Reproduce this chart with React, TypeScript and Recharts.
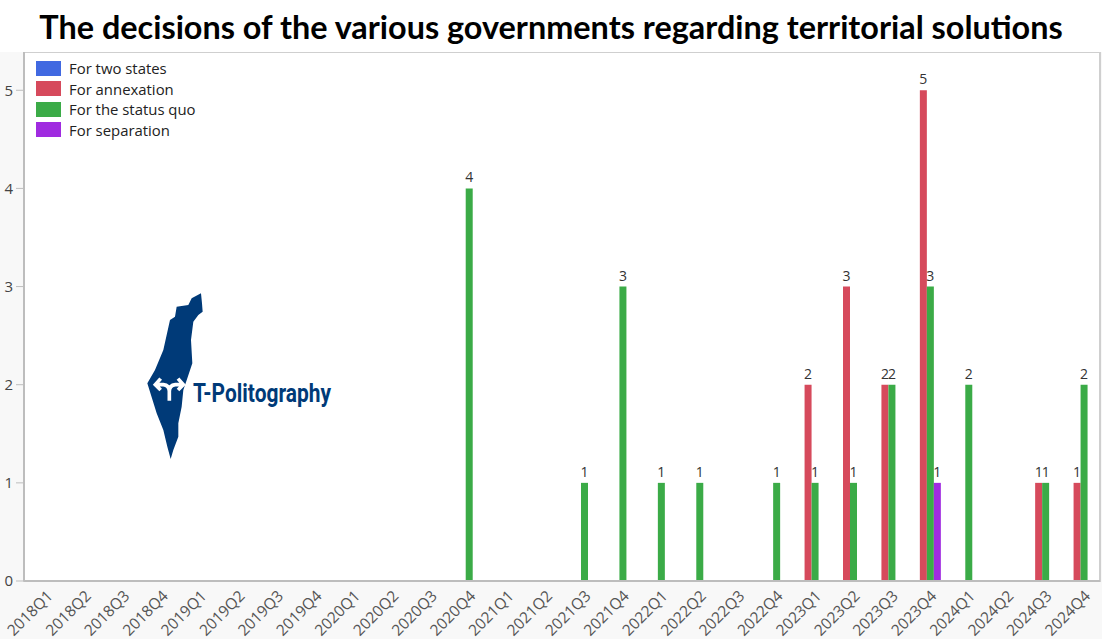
import React from 'react';
import {
  Bar,
  BarChart,
  CartesianGrid,
  LabelList,
  Legend,
  ReferenceArea,
  XAxis,
  YAxis,
} from 'recharts';

const quarters = [
  '2018Q1', '2018Q2', '2018Q3', '2018Q4',
  '2019Q1', '2019Q2', '2019Q3', '2019Q4',
  '2020Q1', '2020Q2', '2020Q3', '2020Q4',
  '2021Q1', '2021Q2', '2021Q3', '2021Q4',
  '2022Q1', '2022Q2', '2022Q3', '2022Q4',
  '2023Q1', '2023Q2', '2023Q3', '2023Q4',
  '2024Q1', '2024Q2', '2024Q3', '2024Q4',
];

const n = null;
const twoStates = [n, n, n, n, n, n, n, n, n, n, n, n, n, n, n, n, n, n, n, n, n, n, n, n, n, n, n, n];
const annexation = [n, n, n, n, n, n, n, n, n, n, n, n, n, n, n, n, n, n, n, n, 2, 3, 2, 5, n, n, 1, 1];
const statusQuo = [n, n, n, n, n, n, n, n, n, n, n, 4, n, n, 1, 3, 1, 1, n, 1, 1, 1, 2, 3, 2, n, 1, 2];
const separation = [n, n, n, n, n, n, n, n, n, n, n, n, n, n, n, n, n, n, n, n, n, n, n, 1, n, n, n, n];

const yTicks = [0, 1, 2, 3, 4, 5];
const Y_MAX = 5.39;

const seriesNames = ['For two states', 'For annexation', 'For the status quo', 'For separation'];
const seriesColors = ['#4169e1', '#d64a5c', '#3bab47', '#a02be0'];

const data = quarters.map((quarter, i) => ({
  quarter,
  s0: twoStates[i],
  s1: annexation[i],
  s2: statusQuo[i],
  s3: separation[i],
}));

const FONT = '"Open Sans", "Noto Sans", sans-serif';

const QuarterTick = ({ x, y, payload }: any) => (
  <text
    transform={`translate(${x + 10.5} ${y + 14}) rotate(-45)`}
    textAnchor="end"
    fontFamily={FONT}
    fontSize={15.5}
    fill="#555"
  >
    {payload.value}
  </text>
);

const LegendBox = ({ payload }: any) => (
  <div style={{ fontFamily: FONT, fontSize: 14.9, color: '#222' }}>
    {(payload || []).map((entry: any) => (
      <div key={entry.value} style={{ display: 'flex', alignItems: 'center', height: 20.5 }}>
        <span style={{ width: 25, height: 15, background: entry.color, marginRight: 8 }} />
        <span>{entry.value}</span>
      </div>
    ))}
  </div>
);

const Logo = () => (
  <svg
    width={1102}
    height={639}
    style={{ position: 'absolute', left: 0, top: 0, pointerEvents: 'none' }}
  >
    <g transform="translate(130 280) scale(0.3333)">
      <path
        fill="#003a78"
        d="M213 40 L216 70 L218 95 L205 105 L190 125 L183 180 L187 250 L172 295 L160 330 L155 380 L145 430 L145 470 L130 510 L122 537 L112 500 L100 450 L80 400 L52 310 L75 270 L100 210 L120 120 L135 110 L140 80 L175 75 L185 55 Z"
      />
      <path
        fill="none"
        stroke="#fff"
        strokeWidth={11}
        d="M118 362 L118 334 Q118 316 100 314 L78 314 M118 334 Q118 316 136 314 L158 314 M92 296 L76 314 L92 330 M144 296 L160 314 L144 330"
      />
    </g>
    <text
      x={193}
      y={402}
      fontFamily="Roboto, sans-serif"
      fontWeight={700}
      fontSize={25}
      fill="#003a78"
      textLength={138}
      lengthAdjust="spacingAndGlyphs"
    >
      T-Politography
    </text>
  </svg>
);

export default function App() {
  return (
    <div
      style={{
        position: 'absolute',
        left: 0,
        top: 0,
        width: 1102,
        height: 639,
        background: '#fff',
        overflow: 'hidden',
      }}
    >
      <div
        style={{
          position: 'absolute',
          left: 0,
          right: 0,
          top: 7,
          textAlign: 'center',
          fontFamily: 'Lato, sans-serif',
          fontWeight: 700,
          fontSize: 32.4,
          lineHeight: '40px',
          color: '#000',
          whiteSpace: 'nowrap',
        }}
      >
        The decisions of the various governments regarding territorial solutions
      </div>
      <div style={{ position: 'absolute', left: 0, top: 52, background: '#f8f8f8' }}>
        <BarChart
          width={1102}
          height={587}
          data={data}
          barSize={7}
          barGap={0}
          margin={{ top: 0, right: 2, bottom: 0, left: 0 }}
        >
          <CartesianGrid horizontal={false} vertical={false} fill="#fff" stroke="none" />
          <ReferenceArea y1={0} y2={Y_MAX} fill="none" stroke="#cfcfcf" strokeWidth={2} />
          <XAxis
            dataKey="quarter"
            interval={0}
            height={58}
            tickSize={0}
            axisLine={{ stroke: '#bdbdbd', strokeWidth: 2 }}
            tick={<QuarterTick />}
          />
          <YAxis
            width={24}
            domain={[0, Y_MAX]}
            ticks={yTicks}
            tickSize={8}
            tickMargin={3}
            axisLine={{ stroke: '#bdbdbd', strokeWidth: 2 }}
            tickLine={{ stroke: '#bdbdbd' }}
            tick={{ fontFamily: FONT, fontSize: 15, fill: '#444' }}
          />
          <Legend
            layout="vertical"
            align="center"
            verticalAlign="middle"
            itemSorter={null}
            content={<LegendBox />}
            wrapperStyle={{ position: 'absolute', left: 36, top: 6, width: 200 }}
          />
          {seriesNames.map((name, k) => (
            <Bar
              key={name}
              dataKey={`s${k}`}
              name={name}
              fill={seriesColors[k]}
              isAnimationActive={false}
            >
              <LabelList
                dataKey={`s${k}`}
                position="top"
                offset={6}
                style={{ fontFamily: FONT, fontSize: 14, fill: '#333' }}
              />
            </Bar>
          ))}
        </BarChart>
      </div>
      <Logo />
    </div>
  );
}
